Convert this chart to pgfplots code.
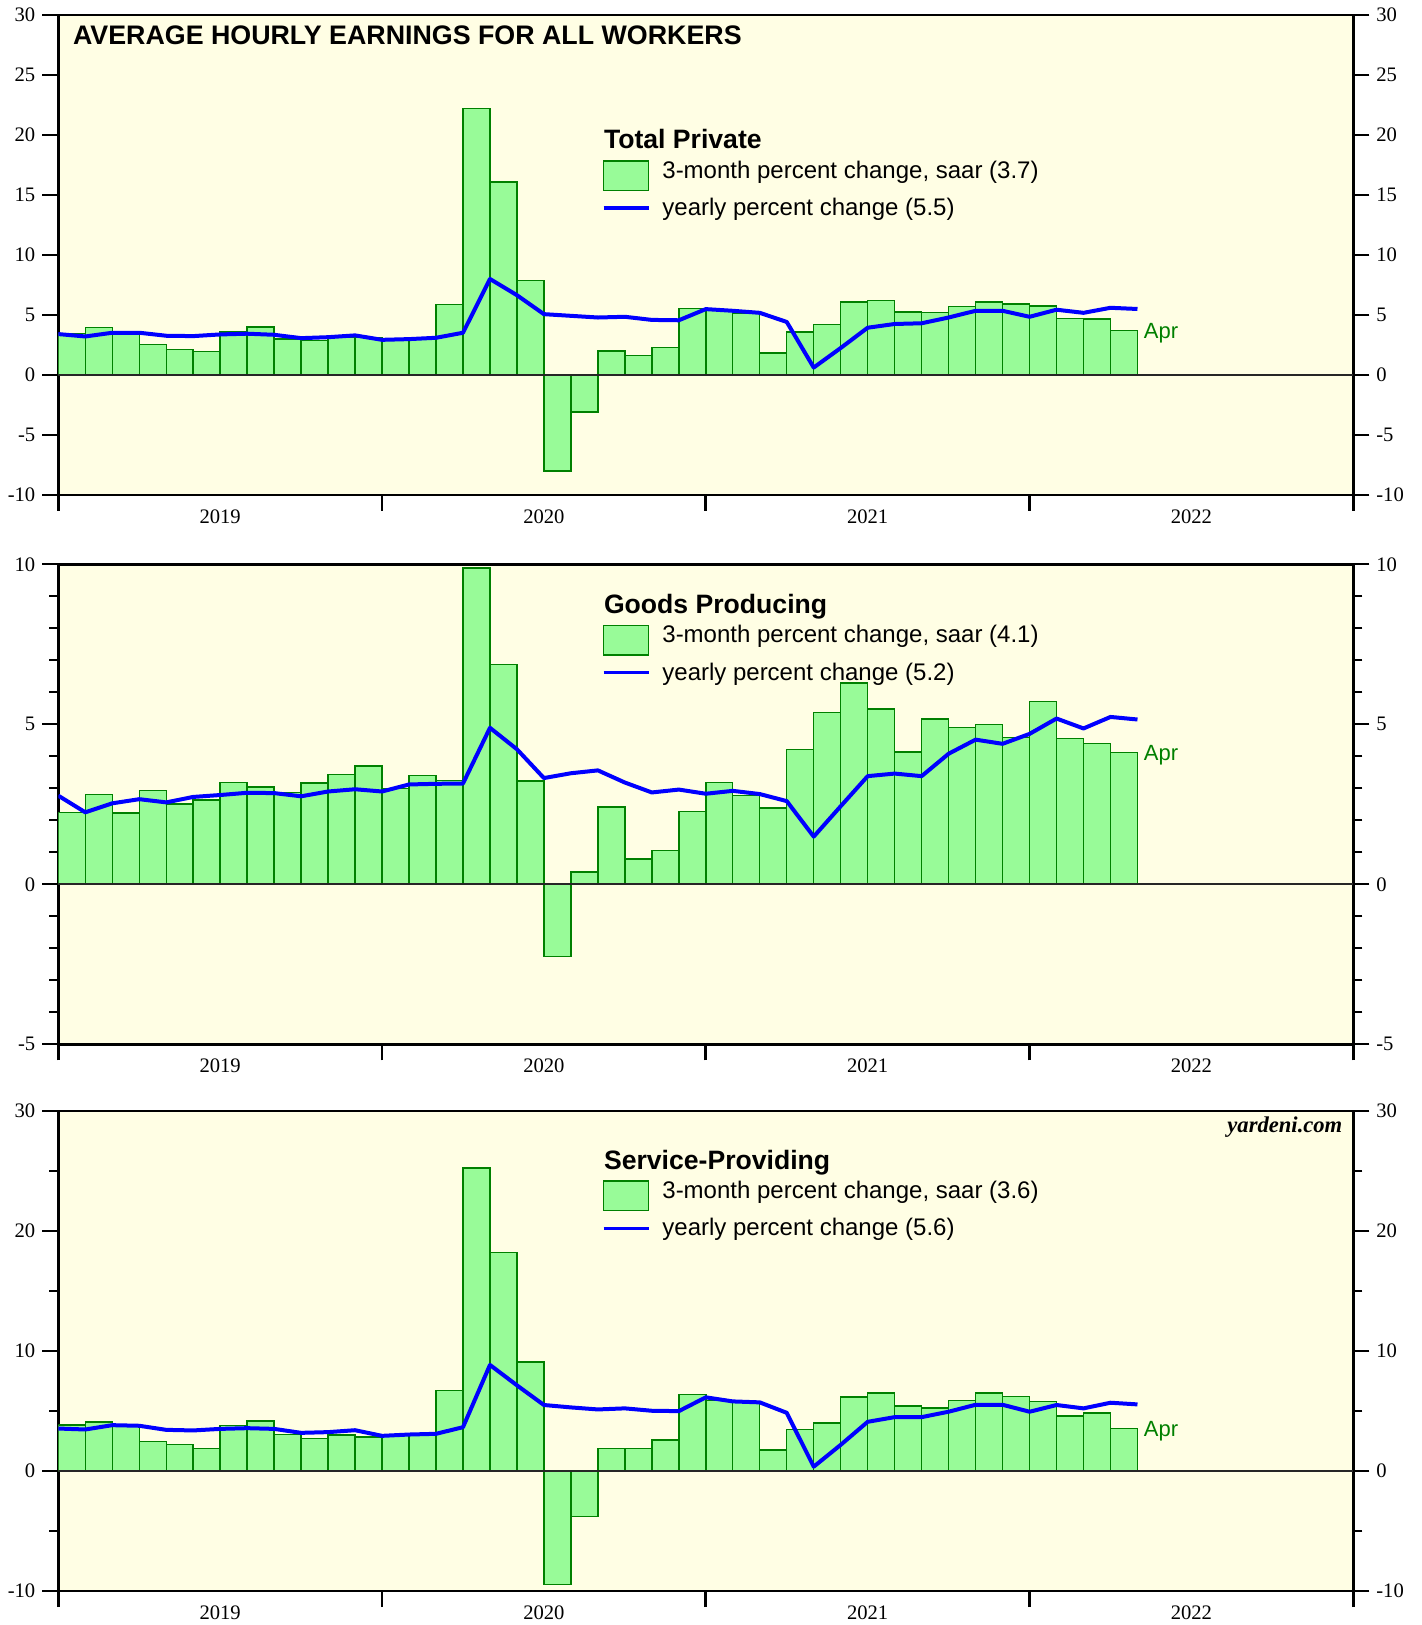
\documentclass[border=0pt]{standalone}
\usepackage{fontspec}
\setmainfont{Liberation Serif}
\newfontfamily\arialfont{Liberation Sans}
\usepackage{pgfplots}
\pgfplotsset{compat=1.18}
\definecolor{bgc}{RGB}{255,254,228}
\definecolor{barfill}{RGB}{152,251,152}
\definecolor{baredge}{RGB}{0,128,0}
\definecolor{aprc}{RGB}{0,128,0}
\newcommand\legtitle{\arialfont\bfseries\fontsize{13.3}{15}\selectfont}
\newcommand\legtext{\arialfont\fontsize{12}{14}\selectfont}
\newcommand{\plegend}[4]{%
 \node[anchor=base west, inner sep=0, font=\legtitle] at ([xshift=272.65pt, yshift=-#1]rel axis cs:0,1) {#2};
 \draw[fill=barfill, draw=baredge, line width=0.7pt] ([xshift=272.65pt, yshift=-#1-6pt]rel axis cs:0,1) rectangle ([xshift=295.15pt, yshift=-#1-20.85pt]rel axis cs:0,1);
 \node[anchor=base west, inner sep=0, font=\legtext] at ([xshift=301.85pt, yshift=-#1-14.65pt]rel axis cs:0,1) {3-month percent change, saar (#3)};
 \draw[blue, line width=1.7pt] ([xshift=272.65pt, yshift=-#1-29.6pt]rel axis cs:0,1) -- ([xshift=295.15pt, yshift=-#1-29.6pt]rel axis cs:0,1);
 \node[anchor=base west, inner sep=0, font=\legtext] at ([xshift=301.85pt, yshift=-#1-33.4pt]rel axis cs:0,1) {yearly percent change (#4)};
}
\pgfplotsset{
 panel/.style={
  scale only axis, width=647.5pt, height=240pt,
  xmin=0, xmax=48,
  axis background/.style={fill=bgc},
  axis line style={line width=1.4pt},
  tick align=outside,
  major tick length=8pt, minor tick length=4.5pt,
  tick style={black, line width=1pt},
  xtick={0,12,24,36,48}, xticklabels={,,,,},
  xtick style={line width=1.4pt},
  xtick pos=left,
  extra x ticks={6,18,30,42},
  extra x tick labels={2019,2020,2021,2022},
  extra x tick style={major tick length=0pt, tick style={draw=none}},
  xticklabel style={anchor=base, yshift=-14.2pt},
  ticklabel style={font=\fontsize{10.3}{12}\selectfont},
  /pgf/number format/assume math mode=true,
 },
 rightlab/.style={
  scale only axis, width=647.5pt, height=240pt,
  xmin=0, xmax=48,
  hide x axis, axis y line*=right,
  y axis line style={draw=none},
  ytick style={draw=none},
  tick align=outside,
  major tick length=8pt,
  ticklabel style={font=\fontsize{10.3}{12}\selectfont},
  /pgf/number format/assume math mode=true,
 },
 bars/.style={ybar, bar width=1, bar shift=0pt, fill=barfill, draw=baredge, line width=0.7pt},
 yline/.style={blue, line width=2pt, line join=round, mark=none},
}
\begin{document}
\begin{tikzpicture}
\useasboundingbox (-29.15pt,-565pt) rectangle (681.35pt,247.5pt);
% ---------------- Panel 1: Total Private
\begin{axis}[panel, at={(0,0)}, ymin=-10, ymax=30, ytick={-10,-5,...,30}]
\addplot[bars] coordinates {
(0.5,3.46) (1.5,3.94) (2.5,3.52) (3.5,2.56) (4.5,2.14) (5.5,1.97) (6.5,3.58) (7.5,4.00)
(8.5,3.01) (9.5,2.85) (10.5,3.13) (11.5,3.10) (12.5,2.90) (13.5,3.04) (14.5,5.89) (15.5,22.2)
(16.5,16.08) (17.5,7.89) (18.5,-8.0) (19.5,-3.1) (20.5,2.0) (21.5,1.6) (22.5,2.28) (23.5,5.52)
(24.5,5.44) (25.5,5.18) (26.5,1.83) (27.5,3.58) (28.5,4.23) (29.5,6.08) (30.5,6.2) (31.5,5.24)
(32.5,5.21) (33.5,5.72) (34.5,6.08) (35.5,5.92) (36.5,5.75) (37.5,4.7) (38.5,4.68) (39.5,3.7)};
\addplot[yline] coordinates {
(0,3.41) (1,3.21) (2,3.52) (3,3.52) (4,3.27) (5,3.24) (6,3.38) (7,3.44) (8,3.35) (9,3.07)
(10,3.15) (11,3.30) (12,2.93) (13,2.99) (14,3.10) (15,3.52) (16,8.0) (17,6.65) (18,5.07) (19,4.93)
(20,4.79) (21,4.85) (22,4.59) (23,4.56) (24,5.49) (25,5.35) (26,5.18) (27,4.42) (28,0.62) (29,2.25)
(30,3.94) (31,4.25) (32,4.31) (33,4.79) (34,5.35) (35,5.35) (36,4.85) (37,5.44) (38,5.18) (39,5.6) (40,5.5)};
\draw[black!85, line width=0.9pt] (axis cs:0,0) -- (axis cs:48,0);
\node[anchor=base west, inner sep=0, font=\arialfont\bfseries\fontsize{13.4}{15}\selectfont] at ([xshift=7.2pt, yshift=-14.6pt]rel axis cs:0,1) {AVERAGE HOURLY EARNINGS FOR ALL WORKERS};
\plegend{67pt}{Total Private}{3.7}{5.5}
\node[anchor=base west, inner sep=0, text=aprc, font=\arialfont\fontsize{11}{13}\selectfont] at ([xshift=3pt,yshift=-4pt]axis cs:40,3.7) {Apr};
\end{axis}
\begin{axis}[rightlab, at={(0,0)}, ymin=-10, ymax=30, ytick={-10,-5,...,30}]
\addplot[draw=none] coordinates {(0,0)};
\end{axis}
% ---------------- Panel 2: Goods Producing
\begin{axis}[panel, at={(0,-274.65pt)}, ymin=-5, ymax=10, ytick={-5,0,5,10}, minor y tick num=4]
\addplot[bars] coordinates {
(0.5,2.25) (1.5,2.80) (2.5,2.23) (3.5,2.94) (4.5,2.51) (5.5,2.63) (6.5,3.19) (7.5,3.04)
(8.5,2.87) (9.5,3.17) (10.5,3.43) (11.5,3.70) (12.5,2.99) (13.5,3.40) (14.5,3.25) (15.5,9.89)
(16.5,6.87) (17.5,3.23) (18.5,-2.26) (19.5,0.38) (20.5,2.41) (21.5,0.79) (22.5,1.06) (23.5,2.27)
(24.5,3.19) (25.5,2.77) (26.5,2.38) (27.5,4.21) (28.5,5.37) (29.5,6.29) (30.5,5.48) (31.5,4.13)
(32.5,5.17) (33.5,4.90) (34.5,5.00) (35.5,4.59) (36.5,5.71) (37.5,4.55) (38.5,4.40) (39.5,4.12)};
\addplot[yline] coordinates {
(0,2.77) (1,2.25) (2,2.53) (3,2.66) (4,2.56) (5,2.73) (6,2.79) (7,2.86) (8,2.85) (9,2.75)
(10,2.90) (11,2.97) (12,2.90) (13,3.12) (14,3.14) (15,3.15) (16,4.89) (17,4.22) (18,3.32) (19,3.47)
(20,3.56) (21,3.18) (22,2.87) (23,2.96) (24,2.83) (25,2.92) (26,2.82) (27,2.60) (28,1.49) (29,2.44)
(30,3.38) (31,3.46) (32,3.38) (33,4.08) (34,4.52) (35,4.39) (36,4.70) (37,5.18) (38,4.87) (39,5.23) (40,5.15)};
\draw[black!85, line width=0.9pt] (axis cs:0,0) -- (axis cs:48,0);
\plegend{24.5pt}{Goods Producing}{4.1}{5.2}
\node[anchor=base west, inner sep=0, text=aprc, font=\arialfont\fontsize{11}{13}\selectfont] at ([xshift=3pt,yshift=-4pt]axis cs:40,4.12) {Apr};
\end{axis}
\begin{axis}[rightlab, at={(0,-274.65pt)}, ymin=-5, ymax=10, ytick={-5,0,5,10}]
\addplot[draw=none] coordinates {(0,0)};
\end{axis}
% ---------------- Panel 3: Service-Providing
\begin{axis}[panel, at={(0,-548pt)}, ymin=-10, ymax=30, ytick={-10,0,...,30}, minor y tick num=1]
\addplot[bars] coordinates {
(0.5,3.82) (1.5,4.07) (2.5,3.70) (3.5,2.48) (4.5,2.20) (5.5,1.87) (6.5,3.77) (7.5,4.18)
(8.5,3.04) (9.5,2.73) (10.5,3.01) (11.5,2.85) (12.5,2.95) (13.5,3.07) (14.5,6.69) (15.5,25.24)
(16.5,18.2) (17.5,9.09) (18.5,-9.48) (19.5,-3.79) (20.5,1.90) (21.5,1.90) (22.5,2.59) (23.5,6.39)
(24.5,5.86) (25.5,5.80) (26.5,1.76) (27.5,3.46) (28.5,3.99) (29.5,6.16) (30.5,6.50) (31.5,5.41)
(32.5,5.24) (33.5,5.86) (34.5,6.50) (35.5,6.22) (36.5,5.77) (37.5,4.60) (38.5,4.83) (39.5,3.55)};
\addplot[yline] coordinates {
(0,3.54) (1,3.46) (2,3.82) (3,3.77) (4,3.43) (5,3.38) (6,3.51) (7,3.57) (8,3.51) (9,3.18)
(10,3.24) (11,3.40) (12,2.93) (13,3.04) (14,3.10) (15,3.65) (16,8.84) (17,7.14) (18,5.50) (19,5.30)
(20,5.13) (21,5.22) (22,5.02) (23,4.99) (24,6.14) (25,5.80) (26,5.72) (27,4.85) (28,0.36) (29,2.18)
(30,4.10) (31,4.49) (32,4.49) (33,4.94) (34,5.52) (35,5.52) (36,4.94) (37,5.50) (38,5.22) (39,5.69) (40,5.55)};
\draw[black!85, line width=0.9pt] (axis cs:0,0) -- (axis cs:48,0);
\plegend{29pt}{Service-Providing}{3.6}{5.6}
\node[anchor=base west, inner sep=0, text=aprc, font=\arialfont\fontsize{11}{13}\selectfont] at ([xshift=3pt,yshift=-4pt]axis cs:40,3.55) {Apr};
\node[anchor=base east, inner sep=0, font=\bfseries\itshape\fontsize{11.3}{13}\selectfont] at ([xshift=-5.3pt, yshift=-10.8pt]rel axis cs:1,1) {yardeni.com};
\end{axis}
\begin{axis}[rightlab, at={(0,-548pt)}, ymin=-10, ymax=30, ytick={-10,0,...,30}]
\addplot[draw=none] coordinates {(0,0)};
\end{axis}
\end{tikzpicture}
\end{document}
